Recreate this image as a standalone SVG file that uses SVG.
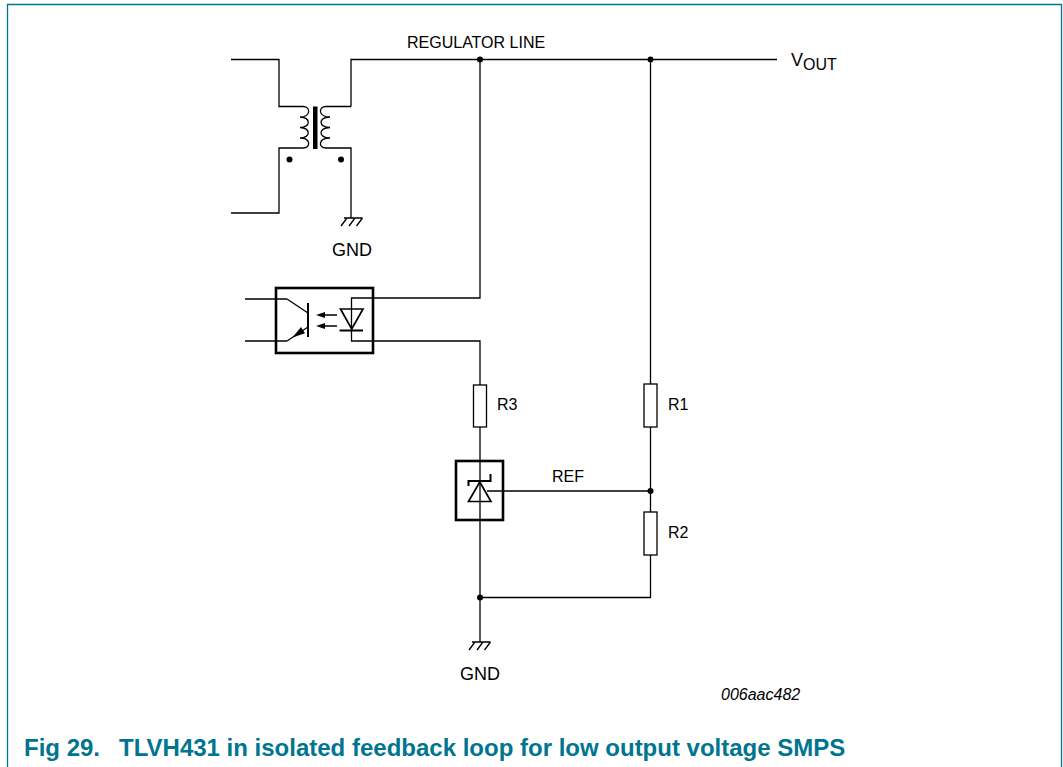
<svg xmlns="http://www.w3.org/2000/svg" width="1063" height="767" viewBox="0 0 1063 767">
<style>
.w{fill:none;stroke:#000;stroke-width:1.3}
.h{fill:none;stroke:#000;stroke-width:1.7}
.b{fill:none;stroke:#000;stroke-width:2.6}
.r{fill:#fff;stroke:#000;stroke-width:1.3}
.d{fill:#000}
text{font-family:"Liberation Sans",Arial,sans-serif;fill:#000}
.t{font-size:16px}
.g{font-size:18px}
</style>
<rect width="1063" height="767" fill="#fff"/>
<path id="frame" d="M7.500 767V4.500H1061.500V767" fill="none" stroke="#00758f" stroke-width="1.300"/>
<g id="connectors">
<path class="w" d="M231 59.500H279V106.500H303"/>
<path class="w" d="M231 213H279V148H303"/>
<path class="w" d="M351 106.500H326M351 106.500V59.500H777"/>
<path class="w" d="M326 148H351V218"/>
<path class="w" d="M480 59.500V298H351.500V341H480V385"/>
<path class="w" d="M650.500 59.500V384"/>
<path class="w" d="M650.500 427V512"/>
<path class="w" d="M650.500 555V597.500H480"/>
<path class="w" d="M480 427V642"/>
<path class="w" d="M487 491H650"/>
<path class="w" d="M245 299H287M245 341H287"/>
<circle class="d" cx="480" cy="59.500" r="3"/>
<circle class="d" cx="650.500" cy="59.500" r="3"/>
<circle class="d" cx="650.500" cy="491" r="3"/>
<circle class="d" cx="480" cy="597.500" r="3"/>
</g>
<g id="transformer">
<path class="w" d="M303 106.500C311 106.500 311 117 300 117C311 117 311 127.500 300 127.500C311 127.500 311 138 300 138C311 138 311 148 303 148"/>
<path class="w" d="M326 106.500C318 106.500 318 117 330 117C318 117 318 127.500 330 127.500C318 127.500 318 138 330 138C318 138 318 148 326 148"/>
<rect class="d" x="313" y="106.500" width="4.500" height="42.500"/>
<circle class="d" cx="289.500" cy="159.500" r="3"/>
<circle class="d" cx="341" cy="159.500" r="3"/>
</g>
<g id="gnd1">
<path class="w" d="M344 218H362.500M347 218L341 226M355 218L349 226M362.500 218L356.500 226"/>
<text class="g" x="332" y="256">GND</text>
</g>
<g id="opto">
<rect class="b" x="276" y="288" width="97" height="65"/>
<path class="w" d="M287 299L308 313M308 327L287 341"/>
<path d="M308 303V337" fill="none" stroke="#000" stroke-width="2"/>
<path class="d" d="M292.500 337.500L305 333.300L301 327Z"/>
<path class="w" d="M322 315H337M322 326H337"/>
<path class="d" d="M316 315L325 312V318ZM316 326L325 323V329Z"/>
<path class="h" d="M340.500 309H363L351.700 329Z"/>
<path d="M339.500 330.500H363" fill="none" stroke="#000" stroke-width="2"/>
</g>
<g id="R3"><rect class="r" x="473.500" y="385" width="13" height="42"/><text class="t" x="497" y="409.500">R3</text></g>
<g id="R1"><rect class="r" x="644" y="384" width="13" height="43"/><text class="t" x="668" y="409.500">R1</text></g>
<g id="R2"><rect class="r" x="644" y="512" width="13" height="43"/><text class="t" x="668" y="537.500">R2</text></g>
<g id="zener">
<rect class="b" x="456" y="461" width="47" height="59"/>
<path class="h" d="M468.500 501.500H491L479.800 482Z"/>
<path d="M468.500 486V481H490.500V474" fill="none" stroke="#000" stroke-width="2"/>
</g>
<g id="gnd2">
<path class="w" d="M472 642H490.500M475 642L469 650M483 642L477 650M490.500 642L484.500 650"/>
<text class="g" x="460" y="680">GND</text>
</g>
<g id="labels">
<text class="t" x="407" y="48">REGULATOR LINE</text>
<text x="791" y="66" font-size="18">V<tspan font-size="16" dy="4">OUT</tspan></text>
<text class="t" x="552" y="482">REF</text>
<text x="721" y="700" font-size="16" font-style="italic">006aac482</text>
<text x="24" y="756" font-size="24" font-weight="bold" style="fill:#00758f">Fig 29.</text>
<text x="119" y="756" font-size="24" font-weight="bold" style="fill:#00758f">TLVH431 in isolated feedback loop for low output voltage SMPS</text>
</g>
</svg>
